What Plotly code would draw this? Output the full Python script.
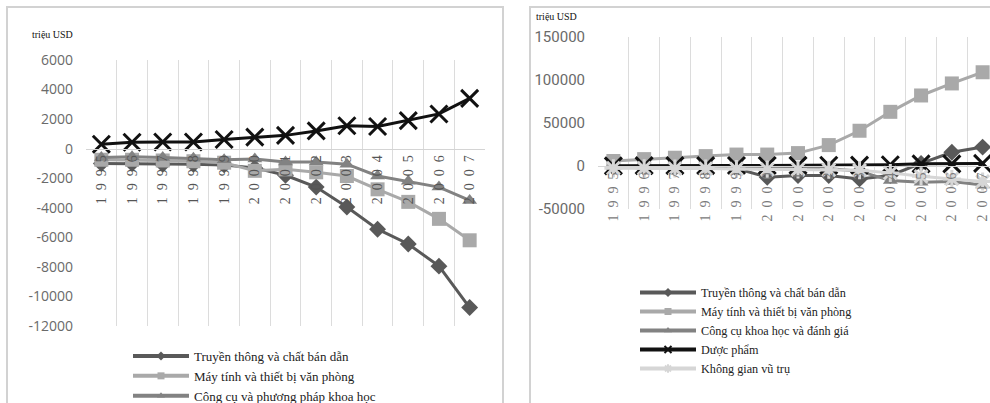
import plotly.graph_objects as go

# Years shared by both panels
years = [1995, 1996, 1997, 1998, 1999, 2000, 2001, 2002, 2003, 2004, 2005, 2006, 2007]
year_labels = ["\u2002".join(str(y)) for y in years]

# Left panel: trade balance, million USD
left_comm = [-1000, -1000, -1050, -1050, -1100, -1300, -1800, -2600, -3950, -5450, -6450, -7950, -10750]
left_comp = [-750, -750, -800, -850, -950, -1500, -1400, -1600, -1850, -2750, -3600, -4750, -6200]
left_inst = [-600, -550, -600, -650, -750, -700, -900, -900, -1050, -1850, -2200, -2600, -3500]
left_pharma = [300, 430, 450, 450, 620, 780, 900, 1200, 1550, 1500, 1900, 2350, 3400]

# Right panel: trade balance, million USD
right_comm = [-1500, -2000, -2500, -2500, -3000, -13000, -11000, -11000, -15000, -11000, 3000, 16000, 22000]
right_comp = [5800, 8000, 9600, 11500, 13300, 13300, 15000, 24300, 41000, 63000, 82000, 96000, 109000]
right_inst = [-1000, -1000, -1000, -1000, -1500, -2000, -2500, -3000, -6000, -17000, -19000, -18000, -22000]
right_pharma = [200, 500, 500, 500, 600, 600, 700, 800, 1000, 1500, 2500, 2500, 3000]
right_space = [-2500, -2500, -3000, -3000, -3500, -4000, -4000, -4500, -5000, -8000, -12000, -15000, -18000]

left_yticks = [6000, 4000, 2000, 0, -2000, -4000, -6000, -8000, -10000, -12000]
right_yticks = [150000, 100000, 50000, 0, -50000]

names_left = ["Truyền thông và chất bán dẫn", "Máy tính và thiết bị văn phòng",
              "Công cụ và phương pháp khoa học", "Dược phẩm"]
names_right = ["Truyền thông và chất bán dẫn", "Máy tính và thiết bị văn phòng",
               "Công cụ khoa học và đánh giá", "Dược phẩm", "Không gian vũ trụ"]

W, H = 990, 403
SERIF = "Liberation Serif, Times New Roman, serif"

styles = [
    dict(color="#595959", symbol="diamond", size=13),
    dict(color="#a9a9a9", symbol="square", size=14),
    dict(color="#828282", symbol="triangle-up", size=13),
    dict(color="#111111", symbol="x-thin-open", size=17),
    dict(color="#d6d6d6", symbol="asterisk-open", size=15),
]

fig = go.Figure()


def marker_of(st, size):
    open_sym = st["symbol"].endswith("open")
    return dict(symbol=st["symbol"], size=size, color=st["color"],
                line=dict(color=st["color"], width=(3 if size > 10 else 2) if open_sym else 0))


def add_series(vals, name, st, xa, ya):
    fig.add_trace(go.Scatter(
        x=year_labels, y=vals, name=name, mode="lines+markers",
        xaxis=xa, yaxis=ya, showlegend=False,
        line=dict(color=st["color"], width=3),
        marker=marker_of(st, st["size"]),
    ))


def add_key(name, st, xa, ya, legend):
    # legend entry with a small symbol on a thick line sample
    fig.add_trace(go.Scatter(
        x=[None], y=[None], name=name, mode="lines+markers",
        xaxis=xa, yaxis=ya, legend=legend, showlegend=True,
        line=dict(color=st["color"], width=4),
        marker=marker_of(st, 7),
    ))


for vals, name, st in zip([left_comm, left_comp, left_inst, left_pharma], names_left, styles[:4]):
    add_series(vals, name, st, "x", "y")
for name, st in zip(names_left[:3], styles[:3]):
    add_key(name, st, "x", "y", "legend")

for vals, name, st in zip([right_comm, right_comp, right_inst, right_pharma, right_space],
                          names_right, styles):
    add_series(vals, name, st, "x2", "y2")
for name, st in zip(names_right, styles):
    add_key(name, st, "x2", "y2", "legend2")

# Plot-area geometry (paper fractions)
L_dom_x = [86 / W, 485 / W]
L_dom_y = [1 - 326 / H, 1 - 60 / H]
L_range = [-12000, 6000]
R_dom_x = [598 / W, 1.0]
R_dom_y = [1 - 209 / H, 1 - 37 / H]
R_range = [-50000, 150000]


def zero_pos(dom, rng):
    return dom[0] + (0 - rng[0]) / (rng[1] - rng[0]) * (dom[1] - dom[0])


xcommon = dict(type="category", tickson="boundaries", showgrid=True, gridcolor="#dcdcdc",
               gridwidth=1, showline=True, linecolor="#d4d4d4", linewidth=1, ticks="",
               tickangle=-90, anchor="free", zeroline=False)

fig.update_layout(
    width=W, height=H, margin=dict(l=0, r=0, t=0, b=0, autoexpand=False),
    paper_bgcolor="white", plot_bgcolor="rgba(0,0,0,0)",
    xaxis=dict(domain=L_dom_x, position=zero_pos(L_dom_y, L_range), range=[-0.5, 12.5],
               tickfont=dict(family=SERIF, size=14, color="#555555"), **xcommon),
    yaxis=dict(domain=L_dom_y, range=L_range, anchor="x", showgrid=False, zeroline=False,
               tickvals=left_yticks, ticktext=[str(v) for v in left_yticks],
               tickfont=dict(family="Open Sans", size=14, color="#6a6a6a"),
               ticks="", ticklabelstandoff=12),
    xaxis2=dict(domain=R_dom_x, position=zero_pos(R_dom_y, R_range), range=[-0.5, 12.24],
                tickfont=dict(family=SERIF, size=14, color="#7a7a7a"), **xcommon),
    yaxis2=dict(domain=R_dom_y, range=R_range, anchor="x2", showgrid=False, zeroline=False,
                tickvals=right_yticks, ticktext=[str(v) for v in right_yticks],
                tickfont=dict(family="Roboto", size=15, color="#6a6a6a"),
                ticks="", ticklabelstandoff=12),
    legend=dict(x=128 / W, xanchor="left", y=1 - 341 / H, yanchor="top",
                font=dict(family=SERIF, size=13, color="#222222"),
                bgcolor="rgba(0,0,0,0)", itemwidth=56, tracegroupgap=0),
    legend2=dict(x=635 / W, xanchor="left", y=1 - 278 / H, yanchor="top",
                 font=dict(family=SERIF, size=12.2, color="#222222"),
                 bgcolor="rgba(0,0,0,0)", itemwidth=56, tracegroupgap=0),
    showlegend=True,
)

# Chart frames
fig.add_shape(type="rect", xref="paper", yref="paper", x0=7 / W, x1=503 / W, y0=-0.1, y1=1 - 7 / H,
              line=dict(color="#d2d2d2", width=2), layer="below")
fig.add_shape(type="rect", xref="paper", yref="paper", x0=530 / W, x1=1.1, y0=-0.1, y1=1 - 7 / H,
              line=dict(color="#d2d2d2", width=2), layer="below")

# Unit labels
fig.add_annotation(text="triệu USD", xref="paper", yref="paper", x=30 / W, y=1 - 34 / H,
                   xanchor="left", yanchor="middle", showarrow=False,
                   font=dict(family=SERIF, size=10, color="#111111"))
fig.add_annotation(text="triệu USD", xref="paper", yref="paper", x=534 / W, y=1 - 17 / H,
                   xanchor="left", yanchor="middle", showarrow=False,
                   font=dict(family=SERIF, size=10, color="#111111"))

fig.write_html("out.html")
